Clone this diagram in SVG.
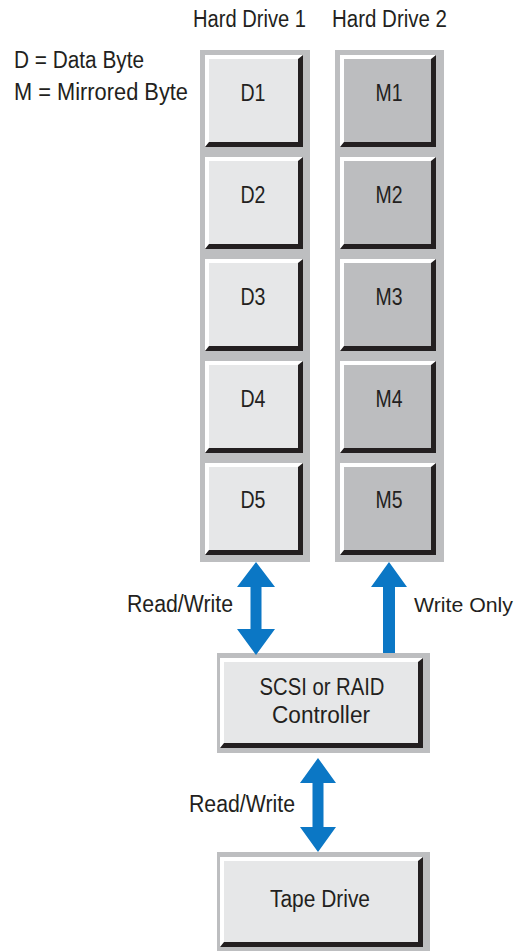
<svg xmlns="http://www.w3.org/2000/svg" xmlns:xlink="http://www.w3.org/1999/xlink" width="518" height="951" viewBox="0 0 518 951">
<style>
text{font-family:"Liberation Sans Narrow","Liberation Sans",Arial,sans-serif;font-size:23px;fill:#231f20}
.c{text-anchor:middle}
.col{fill:#bdbec0}
.dark{fill:#231f20}
.hi{fill:#ffffff}
.faceL{fill:#e6e7e8}
.faceM{fill:#bcbdbf}
.arrow{fill:#0b77c5}
</style>
<defs>
<g id="dbox">
<rect class="dark" x="0" y="0" width="98" height="92"/>
<polygon class="hi" points="0,0 98,0 93,4 4,4 4,87 0,92"/>
<rect class="faceL" x="4" y="4" width="89" height="83"/>
</g>
<g id="mbox">
<rect class="dark" x="0" y="0" width="96" height="92"/>
<polygon class="hi" points="0,0 96,0 91,4 4,4 4,87 0,92"/>
<rect class="faceM" x="4" y="4" width="87" height="83"/>
</g>
</defs>
<rect width="518" height="951" fill="#ffffff"/>
<g id="legend">
<text x="14" y="68" textLength="130" lengthAdjust="spacingAndGlyphs">D = Data Byte</text>
<text x="14" y="100" textLength="174" lengthAdjust="spacingAndGlyphs">M = Mirrored Byte</text>
</g>
<g id="hard-drive-1">
<text x="193" y="27" textLength="113" lengthAdjust="spacingAndGlyphs">Hard Drive 1</text>
<rect class="col" x="200" y="50" width="110" height="512"/>
<g id="d1"><use xlink:href="#dbox" x="205" y="55"/><text class="c" x="253" y="101" textLength="25" lengthAdjust="spacingAndGlyphs">D1</text></g>
<g id="d2"><use xlink:href="#dbox" x="205" y="157"/><text class="c" x="253" y="203" textLength="25" lengthAdjust="spacingAndGlyphs">D2</text></g>
<g id="d3"><use xlink:href="#dbox" x="205" y="259"/><text class="c" x="253" y="305" textLength="25" lengthAdjust="spacingAndGlyphs">D3</text></g>
<g id="d4"><use xlink:href="#dbox" x="205" y="361"/><text class="c" x="253" y="407" textLength="25" lengthAdjust="spacingAndGlyphs">D4</text></g>
<g id="d5"><use xlink:href="#dbox" x="205" y="463"/><text class="c" x="253" y="508" textLength="25" lengthAdjust="spacingAndGlyphs">D5</text></g>
</g>
<g id="hard-drive-2">
<text x="332" y="27" textLength="115" lengthAdjust="spacingAndGlyphs">Hard Drive 2</text>
<rect class="col" x="335" y="50" width="109" height="512"/>
<g id="m1"><use xlink:href="#mbox" x="340" y="55"/><text class="c" x="389" y="101" textLength="27" lengthAdjust="spacingAndGlyphs">M1</text></g>
<g id="m2"><use xlink:href="#mbox" x="340" y="157"/><text class="c" x="389" y="203" textLength="27" lengthAdjust="spacingAndGlyphs">M2</text></g>
<g id="m3"><use xlink:href="#mbox" x="340" y="259"/><text class="c" x="389" y="305" textLength="27" lengthAdjust="spacingAndGlyphs">M3</text></g>
<g id="m4"><use xlink:href="#mbox" x="340" y="361"/><text class="c" x="389" y="407" textLength="27" lengthAdjust="spacingAndGlyphs">M4</text></g>
<g id="m5"><use xlink:href="#mbox" x="340" y="463"/><text class="c" x="389" y="508" textLength="27" lengthAdjust="spacingAndGlyphs">M5</text></g>
</g>
<g id="controller">
<rect class="col" x="217" y="653" width="213" height="100"/>
<rect class="dark" x="220" y="658" width="203" height="90"/>
<polygon class="hi" points="220,658 423,658 418,662 224,662 224,743 220,748"/>
<rect class="faceL" x="224" y="662" width="194" height="81"/>
<text class="c" x="322" y="695" textLength="125" lengthAdjust="spacingAndGlyphs">SCSI or RAID</text>
<text class="c" x="321" y="723" textLength="98" lengthAdjust="spacingAndGlyphs">Controller</text>
</g>
<g id="tape-drive">
<rect class="col" x="217" y="852" width="213" height="99"/>
<rect class="dark" x="220" y="857" width="203" height="90"/>
<polygon class="hi" points="220,857 423,857 418,861 224,861 224,942 220,947"/>
<rect class="faceL" x="224" y="861" width="194" height="81"/>
<text class="c" x="320" y="907" textLength="100" lengthAdjust="spacingAndGlyphs">Tape Drive</text>
</g>
<g id="connectors">
<polygon class="arrow" points="256,562 275,587 261.5,587 261.5,629 275,629 256,655 237,629 250.5,629 250.5,587 237,587"/>
<polygon class="arrow" points="389,562 407,587 395,587 395,653 383,653 383,587 371,587"/>
<polygon class="arrow" points="318,758 336,783 323.5,783 323.5,827 336,827 318,852 300,827 312.5,827 312.5,783 300,783"/>
<text x="127" y="612" textLength="106" lengthAdjust="spacingAndGlyphs">Read/Write</text>
<text x="414" y="612" style="font-size:21px" textLength="99" lengthAdjust="spacingAndGlyphs">Write Only</text>
<text x="189" y="812" textLength="106" lengthAdjust="spacingAndGlyphs">Read/Write</text>
</g>
</svg>
